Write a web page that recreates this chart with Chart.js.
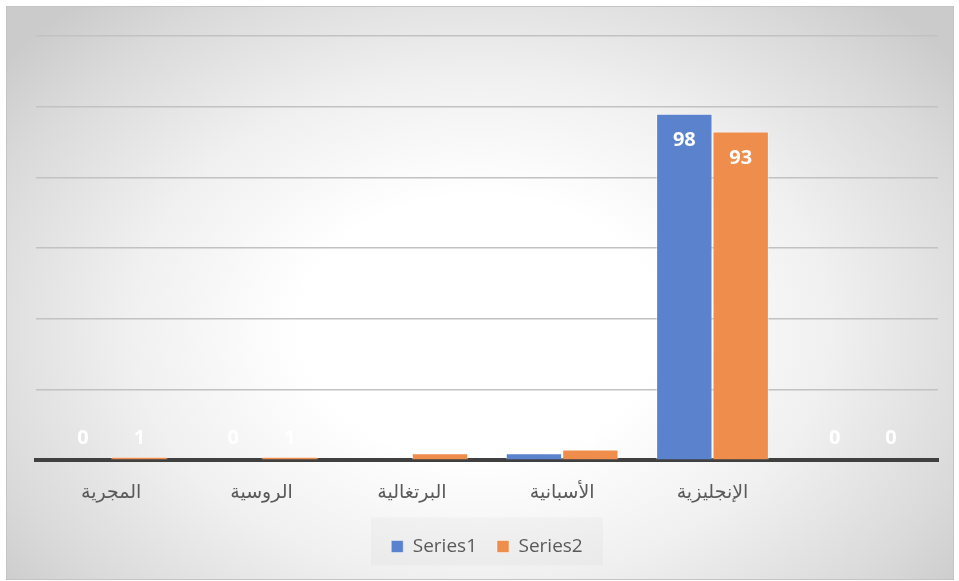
<!DOCTYPE html>
<html>
<head>
<meta charset="utf-8">
<script src="https://cdn.jsdelivr.net/npm/chart.js@4/dist/chart.umd.min.js"></script>
<style>
  html, body { margin: 0; padding: 0; background: #ffffff; }
  #frame {
    position: absolute; left: 6px; top: 6px; width: 946px; height: 572px;
    border: 1px solid #c4c4c4;
    background: radial-gradient(ellipse 64% 76% at 50% 56%, #ffffff 0%, #ffffff 30%, #f0f0f0 58%, #dadada 85%, #cbcbcb 100%);
  }
</style>
</head>
<body>
<div id="frame"><canvas id="chart"></canvas></div>
<script>
// categories and the two series
const categories = ["المجرية", "الروسية", "البرتغالية", "الأسبانية", "الإنجليزية", ""]
const series1 = [0, 0, 0, 2, 98, 0]
const series2 = [1, 1, 2, 3, 93, 0]
const yTicks = [0, 20, 40, 60, 80, 100, 120]

const BLUE = "#5b82cc"
const ORANGE = "#ee8d4c"

// white value labels, Excel "inside end" style
const valueLabels = {
  id: "valueLabels",
  afterDatasetsDraw(chart) {
    const { ctx } = chart
    const base = chart.scales.y.getPixelForValue(0)
    ctx.save()
    ctx.fillStyle = "#ffffff"
    ctx.font = "bold 20px 'Open Sans', sans-serif"
    ctx.textAlign = "center"
    ctx.textBaseline = "middle"
    chart.data.datasets.forEach((ds, i) => {
      chart.getDatasetMeta(i).data.forEach((bar, j) => {
        const h = base - bar.y
        const y = h > 50 ? bar.y + 27 : base - 22
        ctx.fillText(String(ds.data[j]), bar.x, y)
      })
    })
    ctx.restore()
  },
}

// faint box behind the legend
const legendBox = {
  id: "legendBox",
  beforeDraw(chart) {
    const lg = chart.legend
    if (!lg) return
    const { ctx } = chart
    const w = 232
    const cx = lg.left + lg.width / 2
    ctx.save()
    ctx.fillStyle = "rgba(0,0,0,0.025)"
    ctx.fillRect(cx - w / 2, lg.top + lg.height / 2 - 24, w, 48)
    ctx.restore()
  },
}

new Chart(document.getElementById("chart"), {
  type: "bar",
  data: {
    labels: categories,
    datasets: [
      {
        label: "Series1",
        data: series1,
        backgroundColor: BLUE,
        borderColor: "rgba(255,255,255,0.45)",
        borderWidth: 1,
        categoryPercentage: 0.75,
        barPercentage: 1,
      },
      {
        label: "Series2",
        data: series2,
        backgroundColor: ORANGE,
        borderColor: "rgba(255,255,255,0.45)",
        borderWidth: 1,
        categoryPercentage: 0.75,
        barPercentage: 1,
      },
    ],
  },
  options: {
    responsive: true,
    maintainAspectRatio: false,
    animation: false,
    layout: { padding: { left: 29, right: 15, top: 29, bottom: 13 } },
    plugins: {
      tooltip: { enabled: false },
      legend: {
        position: "bottom",
        labels: {
          color: "#595959",
          font: { family: "'Open Sans', sans-serif", size: 19 },
          boxWidth: 12,
          boxHeight: 12,
          padding: 20,
        },
      },
    },
    scales: {
      x: {
        grid: { display: false },
        border: { color: "#404040", width: 4 },
        ticks: {
          color: "#595959",
          font: { family: "'DejaVu Sans', sans-serif", size: 19 },
          padding: 13,
        },
      },
      y: {
        min: 0,
        max: 120,
        afterBuildTicks: (axis) => { axis.ticks = yTicks.map(v => ({ value: v })) },
        grid: { color: "#c2c2c2", lineWidth: 1.5, drawTicks: false },
        border: { display: false },
        ticks: { display: false },
      },
    },
  },
  plugins: [legendBox, valueLabels],
})
</script>
</body>
</html>
